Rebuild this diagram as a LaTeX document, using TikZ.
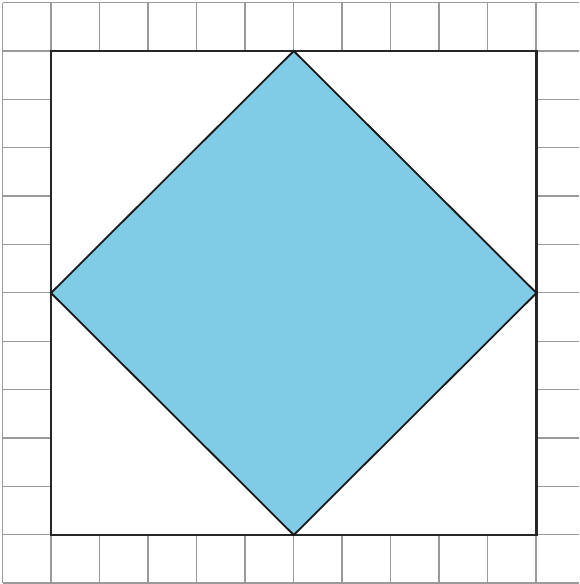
\documentclass[tikz,border=0pt]{standalone}
\definecolor{gridgray}{HTML}{9A9A9A}
\definecolor{diamondblue}{HTML}{80CCE6}
\tikzset{
  gridline/.style={draw=gridgray, line width=1.3pt},
  outersq/.style={draw=black!85, line width=2.6pt, fill=white},
  diamondshape/.style={draw=black!90, line width=1.8pt, fill=diamondblue, line join=miter},
}
\begin{document}
\begin{tikzpicture}[x=1pt,y=-1pt]
\useasboundingbox (0,0) rectangle (579,584);
\fill[white] (0,0) rectangle (579,584);
% grid
\foreach \k in {0,...,11} {
  \draw[gridline] ({2.5+48.5*\k},2.5) -- ({2.5+48.5*\k},583);
}
\foreach \k in {0,...,12} {
  \draw[gridline] (2.5,{2.5+48.38*\k}) -- (579,{2.5+48.38*\k});
}
% outer square
\coordinate (tl) at (51,51);
\coordinate (br) at (536.5,535);
\draw[outersq] (tl) rectangle (br);
% diamond vertices
\coordinate (top) at (293.75,51);
\coordinate (right) at (536.5,293);
\coordinate (bottom) at (293.75,535);
\coordinate (left) at (51,293);
\draw[diamondshape] (top) -- (right) -- (bottom) -- (left) -- cycle;
\end{tikzpicture}
\end{document}
